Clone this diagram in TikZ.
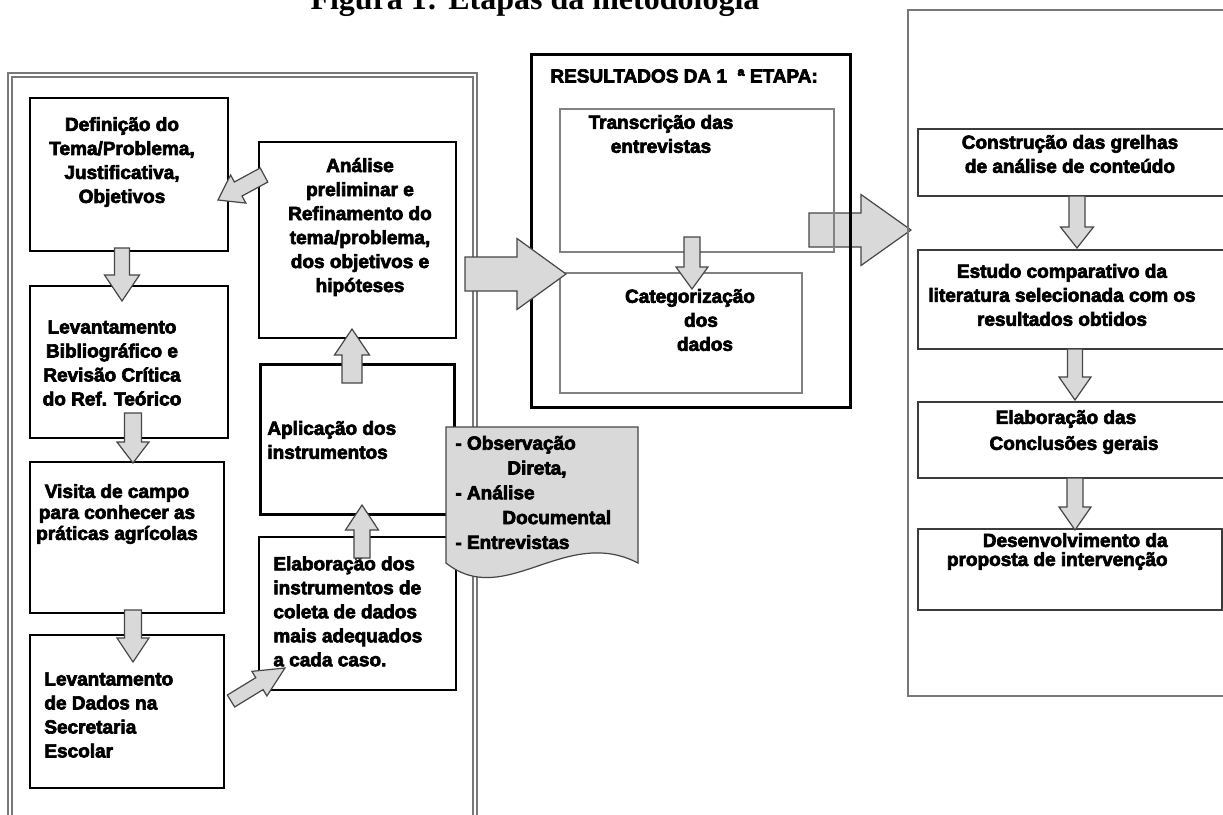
\documentclass[tikz,border=0pt]{standalone}
\usepackage{fontspec}
\setmainfont{Liberation Serif}
\newfontfamily\hv{Liberation Sans}[BoldFeatures={FakeBold=3.5}]
\usetikzlibrary{fit,calc}
\definecolor{arrowgray}{RGB}{217,217,217}
\definecolor{arrowline}{RGB}{70,70,70}
\definecolor{panelgray}{RGB}{120,120,120}
\definecolor{lightline}{RGB}{130,130,130}
\definecolor{darkline}{RGB}{60,60,60}
\tikzset{
  lbox/.style={draw=black, line width=1pt, inner sep=0pt},
  rbox/.style={draw=darkline, line width=0.75pt, inner sep=0pt},
  gbox/.style={draw=lightline, line width=0.75pt, inner sep=0pt},
  txt/.style={font=\hv\bfseries\fontsize{9.5}{12}\selectfont, inner sep=0pt},
  barrow/.style={fill=arrowgray, draw=arrowline, line width=0.6pt, line join=miter},
}
\newcommand\blockarr[5]{%
  \coordinate (H) at ($(#2)!#5!(#1)$);
  \draw[barrow] ($(#1)!#3!90:(#2)$) -- ($(H)!#3!90:(#2)$) -- ($(H)!#4!90:(#2)$) -- (#2)
    -- ($(H)!#4!-90:(#2)$) -- ($(H)!#3!-90:(#2)$) -- ($(#1)!#3!-90:(#2)$) -- cycle;
}
\begin{document}
\begin{tikzpicture}[x=0.5pt, y=-0.5pt]
\useasboundingbox (0,0) rectangle (1223,815);
\clip (0,0) rectangle (1223,815);
\fill[white] (0,0) rectangle (1223,815);

% title
\node[font=\bfseries\fontsize{16}{18}\selectfont, anchor=base, inner sep=0pt] (title) at (535,9) {Figura 1: Etapas da metodologia};

% big arrow to right panel (drawn beneath the boxes)
\coordinate (a10s) at (809,230);
\coordinate (a10e) at (911,230);
\blockarr{a10s}{a10e}{8.5pt}{17.75pt}{25pt}

% left panel
\draw[draw=panelgray, line width=0.6pt, double=white, double distance=1.4pt] (10,75) rectangle (475,840);
\node[lbox, fit={(30,98) (228,251)}] (def) {};
\node[lbox, fit={(30,286) (228,438)}] (lb) {};
\node[lbox, fit={(30,462) (224,613)}] (vis) {};
\node[lbox, fit={(30,635) (224,788)}] (ld) {};
\node[lbox, fit={(259,142) (456,338)}] (ana) {};
\node[lbox, line width=1.5pt, fit={(260,364) (454,514)}] (apl) {};
\node[lbox, fit={(259,537) (456,690)}] (ela) {};

% results box
\node[lbox, line width=1.5pt, fit={(531,54) (850,407)}] (res) {};
\node[gbox, fit={(560,109) (834,252)}] (tra) {};
\node[gbox, fit={(560,273) (802,393)}] (cat) {};

% right panel
\draw[draw=panelgray, line width=0.75pt] (1240,10) -- (908,10) -- (908,696) -- (1240,696);
\node[rbox, fit={(918,129) (1240,196)}] (con) {};
\node[rbox, fit={(918,250) (1240,349)}] (est) {};
\node[rbox, fit={(918,402) (1240,478)}] (elc) {};
\node[rbox, fit={(918,529) (1222,610)}] (des) {};

% texts
\node[txt, align=center] (tdef) at (122,162) {Definição do\\Tema/Problema,\\Justificativa,\\Objetivos};
\node[txt, align=center] (tlb) at (112,363) {Levantamento\\Bibliográfico e\\Revisão Crítica\\do Ref. Teórico};
\node[txt, align=center, font=\hv\bfseries\fontsize{9.5}{10.5}\selectfont] (tvis) at (117,514) {Visita de campo\\para conhecer as\\práticas agrícolas};
\node[txt, align=left, anchor=west] (tld) at (44,715) {Levantamento\\de Dados na\\Secretaria\\Escolar};
\node[txt, align=center] (tana) at (360,227) {Análise\\preliminar e\\Refinamento do\\tema/problema,\\dos objetivos e\\hipóteses};
\node[txt, align=left, anchor=west] (tapl) at (267,440) {Aplicação dos\\instrumentos};
\node[txt, align=left, anchor=west] (tela) at (273,611.5) {Elaboração dos\\instrumentos de\\coleta de dados\\mais adequados\\a cada caso.};
\node[txt, anchor=west] (tres) at (550,76) {RESULTADOS DA 1 \ ª ETAPA:};
\node[txt, align=center] (ttra) at (661,134) {Transcrição das\\entrevistas};
\node[txt, align=center] (tcat) at (690,320) {Categorização\\\hspace*{11pt}dos\\\hspace*{15pt}dados};
\node[txt, align=center] (tcon) at (1070,154) {Construção das grelhas\\de análise de conteúdo};
\node[txt, align=center] (test) at (1062,295) {Estudo comparativo da\\literatura selecionada com os\\resultados obtidos};
\node[txt, align=center, font=\hv\bfseries\fontsize{9.5}{13}\selectfont] (telc) at (1066,432) {Elaboração das\\\hspace*{8pt}Conclusões gerais};
\node[txt, align=right, anchor=east, font=\hv\bfseries\fontsize{9.5}{9.5}\selectfont] (tdes) at (1168,551.5) {Desenvolvimento da\\proposta de intervenção};

% document shape
\draw[fill=arrowgray, draw=arrowline, line width=0.6pt] (446,427) -- (638,427) -- (638,563)
  .. controls (565,525) and (505,610) .. (446,563) -- cycle;
\node[txt, align=left, anchor=west, font=\hv\bfseries\fontsize{9.5}{12.4}\selectfont] (tdoc) at (455,492.5)
  {- Observação\\\hspace*{26pt}Direta,\\- Análise\\\hspace*{23.5pt}Documental\\- Entrevistas};

% block arrows
\coordinate (a1s) at (264,175); \coordinate (a1e) at (218,200);
\blockarr{a1s}{a1e}{4pt}{8pt}{11.5pt}
\coordinate (a2s) at (122,248); \coordinate (a2e) at (122,301);
\blockarr{a2s}{a2e}{3.75pt}{8.75pt}{13pt}
\coordinate (a3s) at (133,413); \coordinate (a3e) at (133,463);
\blockarr{a3s}{a3e}{4.25pt}{8pt}{10.5pt}
\coordinate (a4s) at (133,610); \coordinate (a4e) at (133,662);
\blockarr{a4s}{a4e}{4.25pt}{8pt}{12pt}
\coordinate (a5s) at (231,701); \coordinate (a5e) at (285,668);
\blockarr{a5s}{a5e}{3.5pt}{7.2pt}{15pt}
\coordinate (a6s) at (362,558); \coordinate (a6e) at (362,505);
\blockarr{a6s}{a6e}{4pt}{8.25pt}{12.5pt}
\coordinate (a7s) at (352,383); \coordinate (a7e) at (352,329);
\blockarr{a7s}{a7e}{5pt}{8.75pt}{13pt}
\coordinate (a8s) at (465,274); \coordinate (a8e) at (566,274);
\blockarr{a8s}{a8e}{8.5pt}{17.75pt}{24.5pt}
\coordinate (a9s) at (692,237); \coordinate (a9e) at (692,289);
\blockarr{a9s}{a9e}{4pt}{8pt}{11pt}
\coordinate (a11s) at (1077,196); \coordinate (a11e) at (1077,248);
\blockarr{a11s}{a11e}{4pt}{8.25pt}{10.5pt}
\coordinate (a12s) at (1075,349); \coordinate (a12e) at (1075,400);
\blockarr{a12s}{a12e}{3.75pt}{8pt}{11.5pt}
\coordinate (a13s) at (1075,478); \coordinate (a13e) at (1075,530);
\blockarr{a13s}{a13e}{4pt}{8pt}{11.5pt}
\end{tikzpicture}
\end{document}
